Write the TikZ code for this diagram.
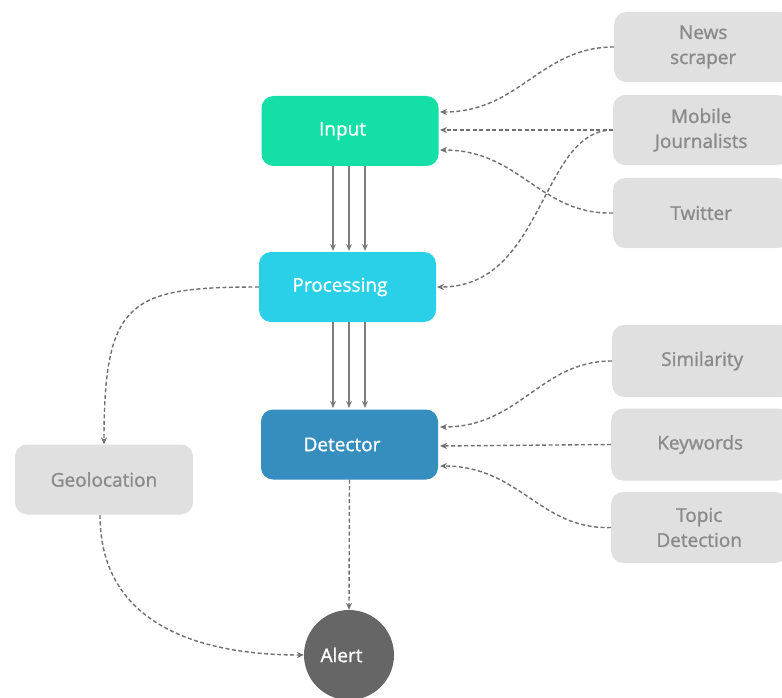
\documentclass[tikz,border=0pt]{standalone}
\usepackage{fontspec}
\setmainfont{Open Sans}[BoldFont={Open Sans}, BoldFeatures={FakeBold=1.2}]
\usetikzlibrary{arrows.meta}
\definecolor{cinput}{HTML}{13DFA6}
\definecolor{cproc}{HTML}{29D0E8}
\definecolor{cdet}{HTML}{368EBF}
\definecolor{calert}{HTML}{666666}
\definecolor{cgbox}{HTML}{E0E0E0}
\definecolor{cgtext}{HTML}{8A8A8A}
\definecolor{cline}{HTML}{707070}
\newcommand{\lsh}{\hspace*{-15pt}}
\tikzset{
  mainbox/.style={rectangle, rounded corners=12pt, minimum width=177pt, minimum height=70pt, inner sep=0pt, text=white, font=\fontsize{19}{22}\selectfont\bfseries},
  greybox/.style={rectangle, rounded corners=12pt, fill=cgbox, minimum height=70pt, inner sep=0pt, text=cgtext, align=center, font=\fontsize{19}{25}\selectfont\bfseries},
  dashconn/.style={draw=cline, line width=1.4pt, dashed, dash pattern=on 4pt off 2.5pt, -{Stealth[length=7pt,width=6pt]}},
  solidconn/.style={draw=cline!90, line width=1.3pt, -{Stealth[length=7pt,width=6pt]}}
}
\begin{document}
\begin{tikzpicture}[x=1pt,y=-1pt]
\useasboundingbox (0,0) rectangle (782,698);
\clip (0,0) rectangle (782,698);
\fill[white] (0,0) rectangle (782,698);
% main nodes
\node[mainbox, fill=cinput] (input) at (350,131) {\lsh Input};
\node[mainbox, fill=cproc] (proc) at (347.5,287) {\lsh Processing};
\node[mainbox, fill=cdet] (det) at (349.5,444.5) {\lsh Detector};
\node[circle, fill=calert, minimum size=90pt, inner sep=0pt, text=white, font=\fontsize{19}{22}\selectfont\bfseries] (alert) at (349,655) {\lsh Alert};
% grey nodes
\node[greybox, minimum width=178pt] (geo) at (104,479.5) {Geolocation};
\node[greybox, minimum width=178pt, anchor=west] (news) at (614,47) {News\\scraper};
\node[greybox, minimum width=176pt, anchor=west] (mob) at (613,130) {Mobile\\Journalists};
\node[greybox, minimum width=176pt, anchor=west] (tw) at (613,213) {Twitter};
\node[greybox, minimum width=180pt, anchor=west, minimum height=72pt] (sim) at (612,361) {Similarity};
\node[greybox, minimum width=178pt, anchor=west, minimum height=72pt] (kw) at (611,444.5) {Keywords};
\node[greybox, minimum width=176pt, anchor=west, minimum height=71pt] (topic) at (611,527.5) {Topic\\Detection};
% named anchor points
\coordinate (inA) at (440,112);
\coordinate (inB) at (440,130);
\coordinate (inC) at (440,150);
\coordinate (prR) at (437,287);
\coordinate (dtA) at (440,427);
\coordinate (dtB) at (440,446);
\coordinate (dtC) at (440,466);
% vertical solid arrows
\foreach \xx in {333,349,365} {
  \draw[solidconn] (\xx,166) -- (\xx,251);
  \draw[solidconn] (\xx,322) -- (\xx,408);
}
% dashed connectors to input
\draw[dashconn] (news.west) .. controls (540,47) and (520,112) .. (inA);
\draw[dashconn] (mob.west) -- (inB);
\draw[dashconn] (tw.west) .. controls (540,215) and (520,150) .. (inC);
\draw[dashconn] (mob.west) .. controls (540,130) and (545,287) .. (prR);
% processing -> geolocation
\draw[dashconn] (proc.west) .. controls (130,287) and (104,300) .. (geo.north);
% geolocation -> alert
\draw[dashconn] (100,515) .. controls (100,625) and (200,655) .. (alert.west);
% detector -> alert
\draw[dashconn] (det.south) -- (alert.north);
% to detector
\draw[dashconn] (sim.west) .. controls (540,361) and (520,427) .. (dtA);
\draw[dashconn] (kw.west) -- (dtB);
\draw[dashconn] (topic.west) .. controls (540,530) and (520,466) .. (dtC);
\end{tikzpicture}
\end{document}
